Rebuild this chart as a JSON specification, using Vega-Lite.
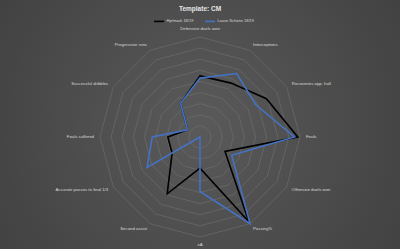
{
  "$schema": "https://vega.github.io/schema/vega-lite/v6.json",
  "width": 400,
  "height": 249,
  "autosize": {"type": "none"},
  "padding": 0,
  "background": "#4a4a4a",
  "config": {
    "font": "Liberation Sans",
    "view": {
      "stroke": null,
      "fill": {
        "gradient": "radial",
        "x1": 0.5, "y1": 0.5, "r1": 0,
        "x2": 0.5, "y2": 0.5, "r2": 0.75,
        "stops": [
          {"offset": 0, "color": "#5a5a5a"},
          {"offset": 1, "color": "#3b3b3b"}
        ]
      }
    }
  },
  "title": {
    "text": "Template: CM",
    "fontSize": 6.5,
    "fontWeight": "bold",
    "color": "#e6e6e6",
    "anchor": "middle",
    "dy": 16
  },
  "datasets": {
    "players": [
      {"player": "Hjelmark 18/19", "i": 0, "metric": "Defensive duels won", "value": 55},
      {"player": "Hjelmark 18/19", "i": 1, "metric": "Interceptions", "value": 56},
      {"player": "Hjelmark 18/19", "i": 2, "metric": "Recoveries opp. half", "value": 69},
      {"player": "Hjelmark 18/19", "i": 3, "metric": "Fouls", "value": 88},
      {"player": "Hjelmark 18/19", "i": 4, "metric": "Offensive duels won", "value": 26},
      {"player": "Hjelmark 18/19", "i": 5, "metric": "Passing%", "value": 88},
      {"player": "Hjelmark 18/19", "i": 6, "metric": "xA", "value": 28},
      {"player": "Hjelmark 18/19", "i": 7, "metric": "Second assist", "value": 59},
      {"player": "Hjelmark 18/19", "i": 8, "metric": "Accurate passes to final 1/3", "value": 29},
      {"player": "Hjelmark 18/19", "i": 9, "metric": "Fouls suffered", "value": 29},
      {"player": "Hjelmark 18/19", "i": 10, "metric": "Successful dribbles", "value": 13},
      {"player": "Hjelmark 18/19", "i": 11, "metric": "Progressive runs", "value": 35},
      {"player": "Lasse Schöne 18/19", "i": 0, "metric": "Defensive duels won", "value": 53},
      {"player": "Lasse Schöne 18/19", "i": 1, "metric": "Interceptions", "value": 66},
      {"player": "Lasse Schöne 18/19", "i": 2, "metric": "Recoveries opp. half", "value": 58},
      {"player": "Lasse Schöne 18/19", "i": 3, "metric": "Fouls", "value": 85},
      {"player": "Lasse Schöne 18/19", "i": 4, "metric": "Offensive duels won", "value": 33},
      {"player": "Lasse Schöne 18/19", "i": 5, "metric": "Passing%", "value": 90},
      {"player": "Lasse Schöne 18/19", "i": 6, "metric": "xA", "value": 49},
      {"player": "Lasse Schöne 18/19", "i": 7, "metric": "Second assist", "value": 0},
      {"player": "Lasse Schöne 18/19", "i": 8, "metric": "Accurate passes to final 1/3", "value": 55},
      {"player": "Lasse Schöne 18/19", "i": 9, "metric": "Fouls suffered", "value": 43},
      {"player": "Lasse Schöne 18/19", "i": 10, "metric": "Successful dribbles", "value": 13},
      {"player": "Lasse Schöne 18/19", "i": 11, "metric": "Progressive runs", "value": 35}
    ],
    "axes": [
      {"i": 0, "metric": "Defensive duels won"},
      {"i": 1, "metric": "Interceptions"},
      {"i": 2, "metric": "Recoveries opp. half"},
      {"i": 3, "metric": "Fouls"},
      {"i": 4, "metric": "Offensive duels won"},
      {"i": 5, "metric": "Passing%"},
      {"i": 6, "metric": "xA"},
      {"i": 7, "metric": "Second assist"},
      {"i": 8, "metric": "Accurate passes to final 1/3"},
      {"i": 9, "metric": "Fouls suffered"},
      {"i": 10, "metric": "Successful dribbles"},
      {"i": 11, "metric": "Progressive runs"}
    ],
    "rings": [
      {"level": 10, "k": [0,1,2,3,4,5,6,7,8,9,10,11]},
      {"level": 20, "k": [0,1,2,3,4,5,6,7,8,9,10,11]},
      {"level": 30, "k": [0,1,2,3,4,5,6,7,8,9,10,11]},
      {"level": 40, "k": [0,1,2,3,4,5,6,7,8,9,10,11]},
      {"level": 50, "k": [0,1,2,3,4,5,6,7,8,9,10,11]},
      {"level": 60, "k": [0,1,2,3,4,5,6,7,8,9,10,11]},
      {"level": 70, "k": [0,1,2,3,4,5,6,7,8,9,10,11]},
      {"level": 80, "k": [0,1,2,3,4,5,6,7,8,9,10,11]},
      {"level": 90, "k": [0,1,2,3,4,5,6,7,8,9,10,11]}
    ]
  },
  "layer": [
    {
      "data": {"name": "rings"},
      "transform": [
        {"flatten": ["k"]},
        {"calculate": "datum.level * sin(datum.k * PI / 6)", "as": "x"},
        {"calculate": "datum.level * cos(datum.k * PI / 6)", "as": "y"}
      ],
      "mark": {"type": "line", "interpolate": "linear-closed", "color": "#707070", "strokeWidth": 0.6},
      "encoding": {
        "x": {"field": "x", "type": "quantitative", "scale": {"domain": [-180, 180], "nice": false, "zero": false}, "axis": null},
        "y": {"field": "y", "type": "quantitative", "scale": {"domain": [-100.8, 123.3], "nice": false, "zero": false}, "axis": null},
        "detail": {"field": "level"},
        "order": {"field": "k"}
      }
    },
    {
      "data": {"name": "players"},
      "transform": [
        {"calculate": "datum.value * sin(datum.i * PI / 6)", "as": "x"},
        {"calculate": "datum.value * cos(datum.i * PI / 6)", "as": "y"}
      ],
      "mark": {"type": "line", "interpolate": "linear-closed", "strokeWidth": 1.6},
      "encoding": {
        "x": {"field": "x", "type": "quantitative"},
        "y": {"field": "y", "type": "quantitative"},
        "order": {"field": "i"},
        "color": {
          "field": "player",
          "type": "nominal",
          "scale": {"domain": ["Hjelmark 18/19", "Lasse Schöne 18/19"], "range": ["#000000", "#4472c4"]},
          "legend": {
            "orient": "none",
            "legendX": 153,
            "legendY": 15,
            "direction": "horizontal",
            "title": null,
            "symbolType": "stroke",
            "symbolSize": 100,
            "symbolStrokeWidth": 1.6,
            "labelFontSize": 4,
            "labelColor": "#d9d9d9",
            "labelOffset": 1.5,
            "columnPadding": 7,
            "padding": 0
          }
        }
      }
    },
    {
      "data": {"name": "axes"},
      "transform": [
        {"filter": "datum.i >= 1 && datum.i <= 5"},
        {"calculate": "95.4 * sin(datum.i * PI / 6)", "as": "x"},
        {"calculate": "95.4 * cos(datum.i * PI / 6)", "as": "y"}
      ],
      "mark": {"type": "text", "align": "left", "baseline": "middle", "fontSize": 4.3, "color": "#d9d9d9"},
      "encoding": {
        "x": {"field": "x", "type": "quantitative"},
        "y": {"field": "y", "type": "quantitative"},
        "text": {"field": "metric"}
      }
    },
    {
      "data": {"name": "axes"},
      "transform": [
        {"filter": "datum.i >= 7"},
        {"calculate": "95.4 * sin(datum.i * PI / 6)", "as": "x"},
        {"calculate": "95.4 * cos(datum.i * PI / 6)", "as": "y"}
      ],
      "mark": {"type": "text", "align": "right", "baseline": "middle", "fontSize": 4.3, "color": "#d9d9d9"},
      "encoding": {
        "x": {"field": "x", "type": "quantitative"},
        "y": {"field": "y", "type": "quantitative"},
        "text": {"field": "metric"}
      }
    },
    {
      "data": {"name": "axes"},
      "transform": [
        {"filter": "datum.i == 0"},
        {"calculate": "95.4 * sin(datum.i * PI / 6)", "as": "x"},
        {"calculate": "95.4 * cos(datum.i * PI / 6)", "as": "y"}
      ],
      "mark": {"type": "text", "align": "center", "baseline": "bottom", "fontSize": 4.3, "color": "#d9d9d9"},
      "encoding": {
        "x": {"field": "x", "type": "quantitative"},
        "y": {"field": "y", "type": "quantitative"},
        "text": {"field": "metric"}
      }
    },
    {
      "data": {"name": "axes"},
      "transform": [
        {"filter": "datum.i == 6"},
        {"calculate": "95.4 * sin(datum.i * PI / 6)", "as": "x"},
        {"calculate": "95.4 * cos(datum.i * PI / 6)", "as": "y"}
      ],
      "mark": {"type": "text", "align": "center", "baseline": "top", "fontSize": 4.3, "color": "#d9d9d9"},
      "encoding": {
        "x": {"field": "x", "type": "quantitative"},
        "y": {"field": "y", "type": "quantitative"},
        "text": {"field": "metric"}
      }
    }
  ]
}
